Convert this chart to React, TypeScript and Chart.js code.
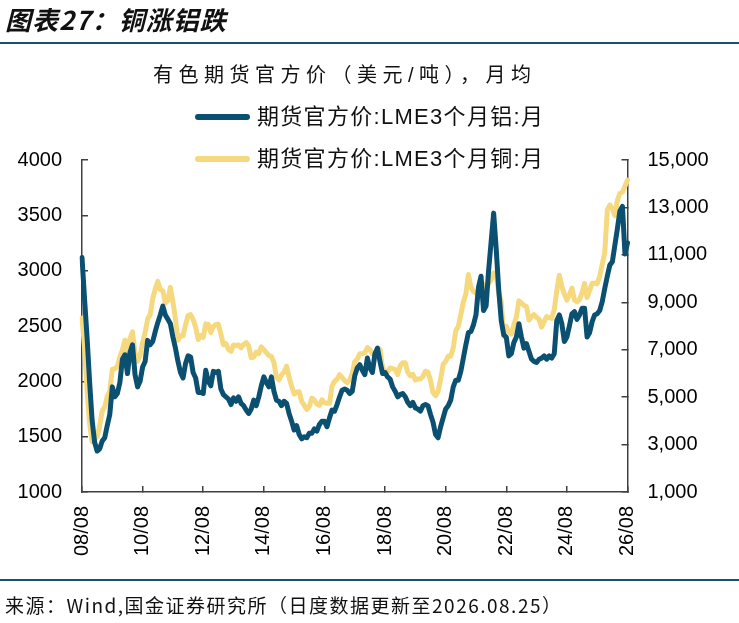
import { useEffect, useRef } from 'react';
import { Chart, ChartConfiguration, registerables } from 'chart.js';

Chart.register(...registerables);

// LME 3M official prices, monthly averages, Aug 2008 - Aug 2026
const aluminium = [
  3120, 2750, 2400, 2000, 1650, 1450, 1370, 1390, 1460, 1490, 1600, 1700,
  1950, 1860, 1890, 1990, 2200, 2240, 2070, 2260, 2330, 2060, 1950, 2000,
  2130, 2180, 2370, 2330, 2360, 2450, 2530, 2600, 2680, 2600, 2560, 2520,
  2400, 2300, 2180, 2080, 2030, 2160, 2230, 2220, 2080, 2030, 1900, 1900,
  1890, 2100, 2000, 1960, 2090, 2080, 2090, 1930, 1880, 1860, 1840, 1790,
  1850, 1820, 1860, 1800, 1780, 1740, 1710, 1750, 1830, 1780, 1860, 1960,
  2040, 1990, 1950, 2040, 1910, 1830, 1820, 1780, 1820, 1800, 1710, 1640,
  1560, 1600, 1520, 1480, 1500, 1490, 1530, 1530, 1570, 1550, 1610, 1640,
  1640, 1590, 1670, 1740, 1730, 1790, 1860, 1920, 1930, 1920, 1890, 1910,
  2050, 2120, 2150, 2100, 2060, 2210, 2120, 2080, 2250, 2300, 2180, 2070,
  2080, 2040, 2020, 1950, 1910, 1860, 1880, 1890, 1860, 1810, 1780, 1810,
  1760, 1750, 1730, 1780, 1790, 1780, 1700, 1630, 1520, 1490, 1590, 1670,
  1750, 1780, 1830, 1950, 2010, 2010, 2090, 2210, 2330, 2440, 2450, 2510,
  2600, 2850, 2950, 2640, 2680, 3000, 3260, 3520, 3200, 2830, 2550, 2420,
  2400, 2230, 2250, 2350, 2400, 2520, 2400, 2300, 2340, 2270, 2200, 2180,
  2170, 2200, 2210, 2230, 2200, 2230, 2210, 2250, 2550, 2600, 2520, 2360,
  2400, 2500, 2610, 2630, 2560, 2600, 2660, 2660, 2400, 2440, 2540, 2600,
  2610, 2640, 2720, 2840, 2950, 3050, 3080, 3230, 3380, 3540, 3580, 3150,
  3250,
];

const copper = [
  8340, 7100, 5300, 3900, 3120, 3220, 3330, 3780, 4420, 4590, 5030, 5240,
  6180, 6200, 6300, 6690, 7000, 7400, 6860, 7470, 7750, 6850, 6510, 6750,
  7300, 7720, 8300, 8480, 9150, 9560, 9880, 9540, 9490, 8970, 9080, 9630,
  9010, 8310, 7400, 7590, 7580, 8050, 8450, 8480, 8280, 7960, 7430, 7590,
  7520, 8090, 8070, 7720, 7980, 8060, 8070, 7660, 7210, 7260, 7010, 6930,
  7200, 7170, 7210, 7080, 7220, 7300, 7160, 6660, 6690, 6900, 6830, 7120,
  7010, 6880, 6750, 6720, 6450, 5840, 5730, 5940, 6050, 6310, 5840, 5460,
  5130, 5220, 5230, 4820, 4650, 4480, 4600, 4960, 4880, 4710, 4650, 4890,
  4770, 4740, 4740, 5460, 5670, 5750, 5950, 5830, 5700, 5610, 5730, 6000,
  6500, 6600, 6830, 6840, 6860, 7090, 7010, 6820, 6870, 6850, 7020, 6260,
  6070, 6060, 6230, 6200, 6170, 5950, 6330, 6450, 6450, 6040, 5900, 5960,
  5720, 5770, 5770, 5870, 6100, 6060, 5700, 5190, 5060, 5250, 5760, 6380,
  6510, 6720, 6720, 7080, 7800, 7980, 8480, 9010, 9350, 10170, 9640, 9460,
  9390, 9360, 9800, 9770, 9560, 9790, 9950, 10240, 10190, 9380, 9040, 7550,
  7990, 7750, 7660, 8060, 8380, 9060, 8970, 8870, 8820, 8250, 8400, 8480,
  8360, 8280, 7950, 8190, 8400, 8350, 8320, 8690, 9490, 10140, 9660, 9350,
  9090, 9320, 9600, 9100, 9020, 9110, 9400, 9800, 9200, 9500, 9800, 9800,
  9780, 10100, 10600, 11100, 12900, 13100, 12950, 12650, 13300, 13600, 13650, 13900,
  14150,
];

const xTickLabels = ['08/08', '10/08', '12/08', '14/08', '16/08', '18/08', '20/08', '22/08', '24/08', '26/08'];
const leftRange = [1000, 4000, 500];
const rightRange = [1000, 15000, 2000];

const seriesNames = ['期货官方价:LME3个月铝:月', '期货官方价:LME3个月铜:月'];
const seriesColors = ['#0b4f71', '#f6d97e'];

// month labels "YY/MM" starting Aug 2008
const months: string[] = aluminium.map((_, i) => {
  const m = 7 + i;
  const yy = (2008 + Math.floor(m / 12)) % 100;
  const mm = (m % 12) + 1;
  return `${String(yy).padStart(2, '0')}/${String(mm).padStart(2, '0')}`;
});

const AXIS = '#404040';
Chart.defaults.font.family = '"Liberation Sans", Arial, sans-serif';

const axisGrid = {
  drawOnChartArea: false,
  drawTicks: true,
  tickLength: -6,
  color: AXIS,
  lineWidth: 1.5,
};
const axisBorder = { display: true, color: AXIS, width: 1.5 };
const tickFont = { family: '"Liberation Sans", Arial, sans-serif', size: 20 };

export default function App() {
  const canvasRef = useRef<HTMLCanvasElement>(null);

  useEffect(() => {
    if (!canvasRef.current) return;

    const config: ChartConfiguration = {
      type: 'line',
      data: {
        labels: months,
        datasets: [
          {
            label: seriesNames[0],
            data: aluminium,
            yAxisID: 'y',
            borderColor: seriesColors[0],
            borderWidth: 5,
            pointRadius: 0,
            tension: 0,
            borderJoinStyle: 'round',
            borderCapStyle: 'round',
          },
          {
            label: seriesNames[1],
            data: copper,
            yAxisID: 'y1',
            borderColor: seriesColors[1],
            borderWidth: 5,
            pointRadius: 0,
            tension: 0,
            borderJoinStyle: 'round',
            borderCapStyle: 'round',
          },
        ],
      },
      options: {
        responsive: false,
        animation: false,
        layout: { padding: { left: 0, right: 0, top: 160, bottom: 0 } },
        plugins: {
          legend: { display: false },
          title: { display: false },
          tooltip: { enabled: false },
        },
        scales: {
          x: {
            type: 'category',
            afterBuildTicks: (axis: any) => {
              axis.ticks = axis.ticks.filter((t: any) => xTickLabels.includes(months[t.value]));
            },
            afterFit: (axis: any) => {
              axis.height = 131;
            },
            grid: axisGrid,
            border: axisBorder,
            ticks: {
              autoSkip: false,
              minRotation: 90,
              maxRotation: 90,
              padding: 20,
              color: '#000',
              font: tickFont,
            },
          },
          y: {
            position: 'left',
            min: leftRange[0],
            max: leftRange[1],
            afterFit: (axis: any) => {
              axis.width = 82;
            },
            grid: axisGrid,
            border: axisBorder,
            ticks: {
              stepSize: leftRange[2],
              padding: 26,
              color: '#000',
              font: tickFont,
              callback: (v: any) => String(v),
            },
          },
          y1: {
            position: 'right',
            min: rightRange[0],
            max: rightRange[1],
            afterFit: (axis: any) => {
              axis.width = 111.5;
            },
            grid: axisGrid,
            border: axisBorder,
            ticks: {
              stepSize: rightRange[2],
              padding: 26,
              color: '#000',
              font: tickFont,
              callback: (v: any) => Number(v).toLocaleString('en-US'),
            },
          },
        },
      } as any,
    };

    const chart = new Chart(canvasRef.current, config);
    return () => chart.destroy();
  }, []);

  const cjk = '"Liberation Sans", "Noto Sans CJK SC", sans-serif';

  return (
    <div style={{ position: 'fixed', left: 0, top: 0, width: 739, height: 623, background: '#fff', overflow: 'hidden' }}>
      <canvas ref={canvasRef} width={739} height={623} style={{ position: 'absolute', left: 0, top: 0 }} />

      <div style={{ position: 'absolute', left: 5, top: 4, lineHeight: '30px', fontSize: 26, fontWeight: 700, fontStyle: 'italic', fontFamily: '"Noto Sans CJK SC", sans-serif', color: '#111', letterSpacing: 1 }}>
        图表27：铜涨铝跌
      </div>
      <div style={{ position: 'absolute', left: 0, top: 42, width: 739, height: 2, background: '#1d4f6e' }} />

      <div style={{ position: 'absolute', left: 153, top: 63, lineHeight: '24px', fontSize: 20, fontFamily: cjk, color: '#111', letterSpacing: 5.5, whiteSpace: 'nowrap' }}>
        有色期货官方价（美元/吨），月均
      </div>

      {seriesNames.map((name, i) => (
        <div key={name} style={{ position: 'absolute', left: 195, top: 117 + i * 42 - 14, height: 28, display: 'flex', alignItems: 'center', whiteSpace: 'nowrap' }}>
          <span style={{ display: 'inline-block', width: 55, height: 6, borderRadius: 3, background: seriesColors[i] }} />
          <span style={{ marginLeft: 7, fontSize: 22, lineHeight: '28px', fontFamily: cjk, color: '#111', letterSpacing: 1.3 }}>{name}</span>
        </div>
      ))}

      <div style={{ position: 'absolute', left: 0, top: 579, width: 739, height: 2, background: '#1d4f6e' }} />
      <div style={{ position: 'absolute', left: 5, top: 594, lineHeight: '22px', fontSize: 19, fontFamily: '"Noto Sans CJK SC", sans-serif', color: '#111', letterSpacing: 1.5, whiteSpace: 'nowrap' }}>
        来源：Wind,国金证券研究所（日度数据更新至2026.08.25）
      </div>
    </div>
  );
}
